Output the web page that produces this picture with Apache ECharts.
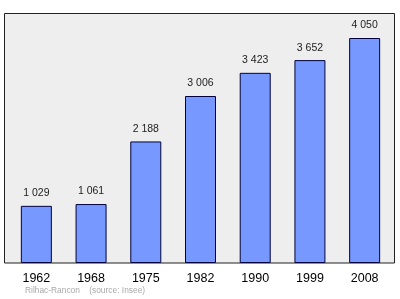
<!DOCTYPE html>
<html><head><meta charset="utf-8">
<script src="https://cdn.jsdelivr.net/npm/echarts@6/dist/echarts.min.js"></script>
<style>html,body{margin:0;padding:0;background:#fff}#c{width:400px;height:299px}</style>
</head><body><div id="c"></div>
<script>
var years = ['1962','1968','1975','1982','1990','1999','2008'];
var population = [1029,1061,2188,3006,3423,3652,4050];
var labels = ['1 029','1 061','2 188','3 006','3 423','3 652','4 050'];
var footer = 'Rilhac-Rancon    (source: Insee)';

var chart = echarts.init(document.getElementById('c'), null, {renderer:'canvas'});
chart.setOption({
  animation:false,
  textStyle:{fontFamily:'Liberation Sans, Arial, sans-serif'},
  graphic:[
    {type:'rect', shape:{x:4.5,y:13.5,width:390,height:249.5}, style:{fill:'#eeeeee',stroke:'#222',lineWidth:1}, z:-10},
    {type:'text', left:25, top:286.5, style:{text:footer, fill:'#aaaaaa', font:'8.4px Liberation Sans, Arial, sans-serif'}}
  ],
  grid:{left:9, width:383, top:13, height:250},
  xAxis:{type:'category', data:years,
    axisLine:{show:false}, axisTick:{show:false},
    axisLabel:{color:'#000', fontSize:12.5, margin:9, fontFamily:'Liberation Sans, Arial, sans-serif'}},
  yAxis:{type:'value', min:0, max:4500, show:false, splitLine:{show:false}},
  series:[{type:'bar', data:population, barWidth:31,
    itemStyle:{color:'#7799ff', borderColor:'#00003a', borderWidth:1},
    label:{show:true, position:'top', distance:7, color:'#222', fontSize:10.5,
      formatter:function(p){return labels[p.dataIndex];}}
  }]
});
</script></body></html>
